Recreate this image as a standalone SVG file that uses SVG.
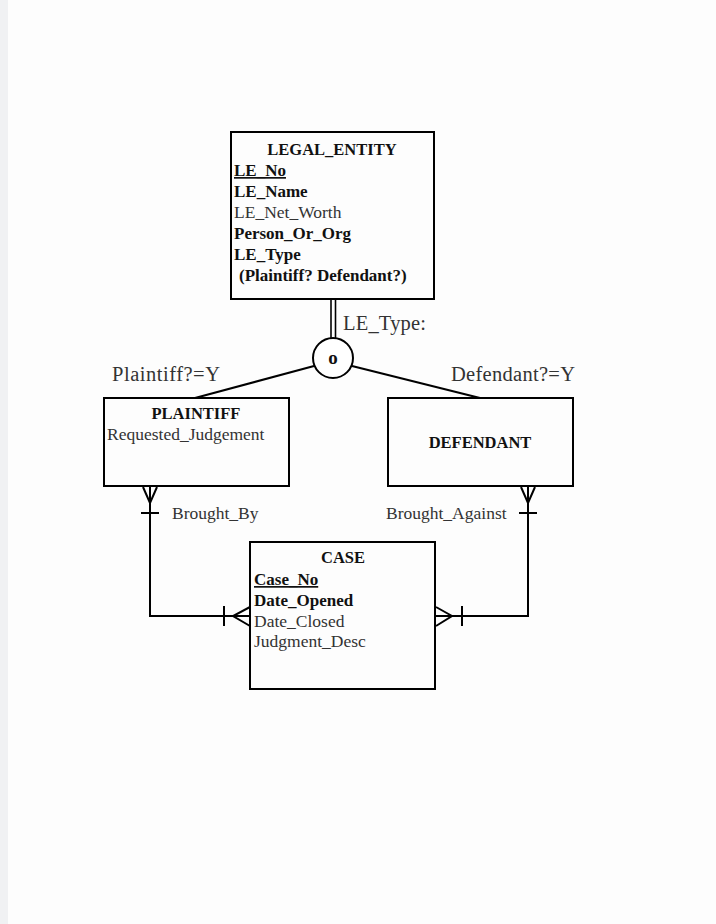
<svg xmlns="http://www.w3.org/2000/svg" width="716" height="924" viewBox="0 0 716 924">
<style>
text{font-family:"Liberation Serif","Times New Roman",serif;fill:#111}
.h{font-weight:bold;font-size:16.5px}
.b{font-weight:bold;font-size:17px}
.r{font-size:17.5px;fill:#333}
.l{font-size:20.5px;fill:#333}
.box{fill:none;stroke:#000;stroke-width:2}
.ln{fill:none;stroke:#000;stroke-width:2}
</style>
<rect x="0" y="0" width="716" height="924" fill="#fdfdfd"/>
<rect x="0" y="0" width="8" height="924" fill="#f0f1f3"/>
<g id="legal_entity">
<rect class="box" x="231" y="132" width="203" height="167"/>
<text class="h" x="332" y="155" text-anchor="middle">LEGAL_ENTITY</text>
<text class="b" x="234" y="176" text-decoration="underline">LE_No</text>
<text class="b" x="234" y="197">LE_Name</text>
<text class="r" x="234" y="218">LE_Net_Worth</text>
<text class="b" x="234" y="239">Person_Or_Org</text>
<text class="b" x="234" y="260">LE_Type</text>
<text class="b" x="239" y="281">(Plaintiff? Defendant?)</text>
</g>
<g id="subtype">
<circle cx="333" cy="358" r="20" fill="#fff" stroke="#000" stroke-width="2"/>
<text x="333" y="364" text-anchor="middle" style="font-weight:bold;font-size:19px">o</text>
</g>
<g id="plaintiff">
<rect class="box" x="104" y="398" width="185" height="88"/>
<text class="h" x="196" y="419" text-anchor="middle">PLAINTIFF</text>
<text class="r" x="107" y="440">Requested_Judgement</text>
</g>
<g id="defendant">
<rect class="box" x="388" y="398" width="185" height="88"/>
<text class="h" x="480" y="448" text-anchor="middle">DEFENDANT</text>
</g>
<g id="case">
<rect class="box" x="250" y="542" width="185" height="147"/>
<text class="h" x="343" y="563" text-anchor="middle">CASE</text>
<text class="b" x="254" y="585" text-decoration="underline">Case_No</text>
<text class="b" x="254" y="606">Date_Opened</text>
<text class="r" x="254" y="627">Date_Closed</text>
<text class="r" x="254" y="647">Judgment_Desc</text>
</g>
<g id="connectors">
<line x1="331" y1="300" x2="331" y2="339" stroke="#000" stroke-width="1.6"/>
<line x1="335.5" y1="300" x2="335.5" y2="339" stroke="#000" stroke-width="1.6"/>
<line class="ln" x1="314" y1="366" x2="195" y2="398"/>
<line class="ln" x1="352" y1="366" x2="480" y2="398"/>
<text class="l" x="343" y="330" textLength="83">LE_Type:</text>
<text class="l" x="112" y="381" textLength="108">Plaintiff?=Y</text>
<text class="l" x="451" y="381" textLength="124">Defendant?=Y</text>
<path class="ln" d="M150 487 V616 H250"/>
<path class="ln" d="M143 487 L150 503 L157 487 M141 513 H159"/>
<path class="ln" d="M250 607 L233 616 L250 626 M224 606 V626"/>
<path class="ln" d="M528 487 V616 H436"/>
<path class="ln" d="M521 487 L528 503 L535 487 M519 513 H537"/>
<path class="ln" d="M436 607 L452 616 L436 626 M462 606 V626"/>
<text class="r" x="172" y="519">Brought_By</text>
<text class="r" x="386" y="519">Brought_Against</text>
</g>
</svg>
